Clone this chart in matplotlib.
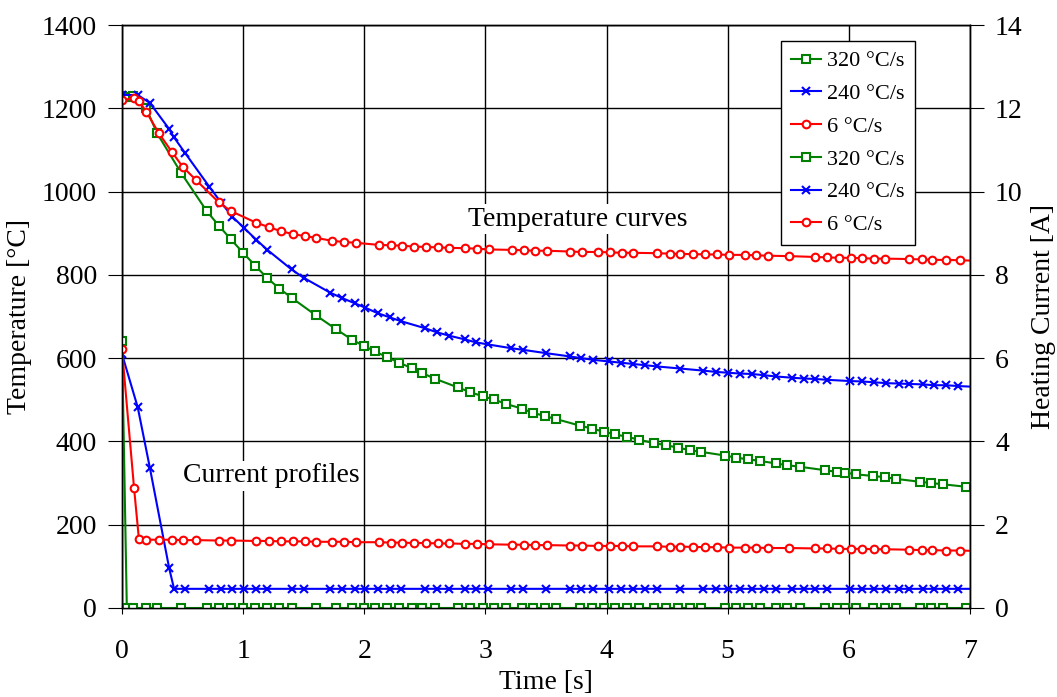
import matplotlib
matplotlib.use("Agg")
import matplotlib.pyplot as plt

plt.rcParams["font.family"] = ["Liberation Serif", "DejaVu Serif"]

# 320 °C/s run (green)
t_320 = [0, 0.04, 0.09, 0.2, 0.29, 0.49, 0.7, 0.8, 0.9, 1.0, 1.1, 1.2, 1.3, 1.4, 1.6, 1.77,
         1.9, 2.0, 2.09, 2.19, 2.29, 2.39, 2.48, 2.58, 2.77, 2.87, 2.98, 3.07, 3.17, 3.3,
         3.39, 3.49, 3.58, 3.78, 3.88, 3.98, 4.07, 4.17, 4.27, 4.39, 4.49, 4.59, 4.69, 4.78,
         4.98, 5.07, 5.17, 5.27, 5.4, 5.49, 5.6, 5.8, 5.9, 5.97, 6.06, 6.2, 6.3, 6.39, 6.59,
         6.68, 6.78, 6.97]
temp_320 = [1230, 1228, 1230, 1200, 1140, 1044, 953, 918, 885, 853, 822, 792, 767, 745, 703, 669,
            644, 629, 616, 602, 589, 576, 564, 551, 530, 519, 508, 501, 490, 479,
            469, 461, 454, 438, 431, 423, 417, 411, 404, 396, 391, 385, 379, 375,
            366, 361, 357, 353, 347, 343, 339, 331, 327, 325, 321, 317, 314, 310, 303,
            300, 297, 291]
cur_320 = [6.4] + [0.0] * (len(t_320) - 1)

# 240 °C/s run (blue)
t_240 = [0, 0.13, 0.23, 0.39, 0.43, 0.52, 0.72, 0.82, 0.91, 1.01, 1.11, 1.2, 1.4, 1.5, 1.72,
         1.82, 1.92, 2.01, 2.11, 2.21, 2.3, 2.5, 2.6, 2.7, 2.83, 2.92, 3.02, 3.21, 3.31, 3.5,
         3.7, 3.79, 3.89, 4.02, 4.12, 4.22, 4.32, 4.42, 4.61, 4.8, 4.9, 5.0, 5.1, 5.2, 5.3,
         5.4, 5.53, 5.63, 5.72, 5.82, 6.01, 6.11, 6.21, 6.31, 6.41, 6.5, 6.61, 6.7, 6.8,
         6.9, 7.05]
temp_240 = [1232, 1232, 1213, 1150, 1130, 1093, 1012, 973, 940, 912, 884, 860, 813, 793, 757,
            744, 732, 721, 708, 698, 689, 672, 662, 654, 645, 638, 633, 624, 620, 612,
            604, 600, 596, 592, 589, 586, 583, 580, 575, 570, 567, 565, 563, 562, 559,
            556, 553, 551, 550, 548, 545, 544, 542, 540, 539, 538, 537, 535, 535,
            533, 531]
cur_240 = [6.1, 4.82, 3.37, 0.95] + [0.46] * (len(t_240) - 4)

# 6 °C/s run (red)
t_6 = [0, 0.1, 0.14, 0.2, 0.305, 0.41, 0.5, 0.61, 0.8, 0.9, 1.11, 1.21, 1.31, 1.41, 1.51, 1.6,
       1.73, 1.83, 1.93, 2.12, 2.22, 2.31, 2.41, 2.51, 2.61, 2.7, 2.83, 2.93, 3.03, 3.22,
       3.32, 3.41, 3.51, 3.7, 3.8, 3.93, 4.03, 4.13, 4.22, 4.42, 4.52, 4.61, 4.71, 4.81,
       4.91, 5.01, 5.14, 5.23, 5.33, 5.51, 5.72, 5.82, 5.92, 6.02, 6.11, 6.21, 6.3, 6.5,
       6.6, 6.69, 6.8, 6.92, 7.05]
temp_6 = [1220, 1224, 1218, 1192, 1140, 1096, 1060, 1028, 974, 953, 925, 915, 905, 898, 893, 889,
          882, 879, 877, 872, 871, 870, 868, 867, 866, 865, 864, 863, 861, 860,
          859, 858, 858, 856, 855, 855, 854, 853, 853, 852, 851, 850, 850, 849,
          849, 848, 848, 847, 846, 845, 843, 842, 841, 841, 840, 839, 839, 838,
          837, 836, 836, 835, 834]
cur_6 = [6.21, 2.87, 1.65, 1.64, 1.64, 1.64, 1.63, 1.63, 1.62, 1.62, 1.61, 1.61, 1.60, 1.60,
         1.60, 1.59, 1.59, 1.59, 1.58, 1.58, 1.57, 1.57, 1.56, 1.56, 1.55, 1.55, 1.54, 1.54,
         1.53, 1.52, 1.52, 1.51, 1.51, 1.50, 1.50, 1.49, 1.49, 1.49, 1.48, 1.48, 1.47, 1.47,
         1.47, 1.46, 1.46, 1.45, 1.45, 1.45, 1.44, 1.44, 1.43, 1.43, 1.42, 1.42, 1.42, 1.41,
         1.41, 1.40, 1.39, 1.39, 1.38, 1.38, 1.37]

labels = ["320 °C/s", "240 °C/s", "6 °C/s"]
colors = ["#008000", "#0000ff", "#ff0000"]
markers = ["s", "x", "o"]


def style(c, m):
    # open squares/circles, solid crosses
    return dict(color=c, lw=1.5, marker=m, ms=5.5 if m != "x" else 6,
                mfc="white" if m != "x" else c, mec=c, mew=1.5)


fig = plt.figure(figsize=(10.57, 6.97), dpi=100)
ax = fig.add_axes([0.1154, 0.1277, 0.8023, 0.8364])
ax2 = ax.twinx()

series = [(t_320, temp_320, cur_320), (t_240, temp_240, cur_240), (t_6, temp_6, cur_6)]
handles = []
for (t, temp, cur), lab, c, m in zip(series, labels, colors, markers):
    h, = ax.plot(t, temp, label=lab, **style(c, m))
    handles.append(h)
for (t, temp, cur), lab, c, m in zip(series, labels, colors, markers):
    h, = ax2.plot(t, cur, label=lab, **style(c, m))
    handles.append(h)

ax.set_xlim(0, 7)
ax.set_ylim(0, 1400)
ax2.set_ylim(0, 14)
ax.set_xticks(range(0, 8))
ax.set_yticks(range(0, 1401, 200))
ax2.set_yticks(range(0, 15, 2))

ax.grid(True, color="black", lw=1)
for a in (ax, ax2):
    for s in a.spines.values():
        s.set_color("black")
        s.set_linewidth(1)

ax.tick_params(axis="x", direction="inout", length=8, pad=18, labelsize=20)
ax.tick_params(axis="y", direction="out", length=10, pad=8, labelsize=20)
ax2.tick_params(axis="y", direction="out", length=10, pad=8, labelsize=20)

ax.set_xlabel("Time [s]", fontsize=20, labelpad=5)
ax.set_ylabel("Temperature [°C]", fontsize=20, labelpad=7)
ax2.set_ylabel("Heating Current [A]", fontsize=20, labelpad=6)

ax2.text(3.76, 9.34, "Temperature curves", fontsize=20, ha="center", va="center",
         bbox=dict(facecolor="white", edgecolor="none", pad=2))
ax2.text(1.23, 3.17, "Current profiles", fontsize=20, ha="center", va="center",
         bbox=dict(facecolor="white", edgecolor="none", pad=2))

leg = ax2.legend(handles=handles, loc="upper right", bbox_to_anchor=(0.935, 0.973),
                 fontsize=16, frameon=True, fancybox=False, edgecolor="black",
                 framealpha=1, handlelength=1.35, handletextpad=0.3, borderpad=0.45,
                 borderaxespad=0, labelspacing=0.55)
leg.get_frame().set_linewidth(1)

fig.savefig("out.png", dpi=100)
